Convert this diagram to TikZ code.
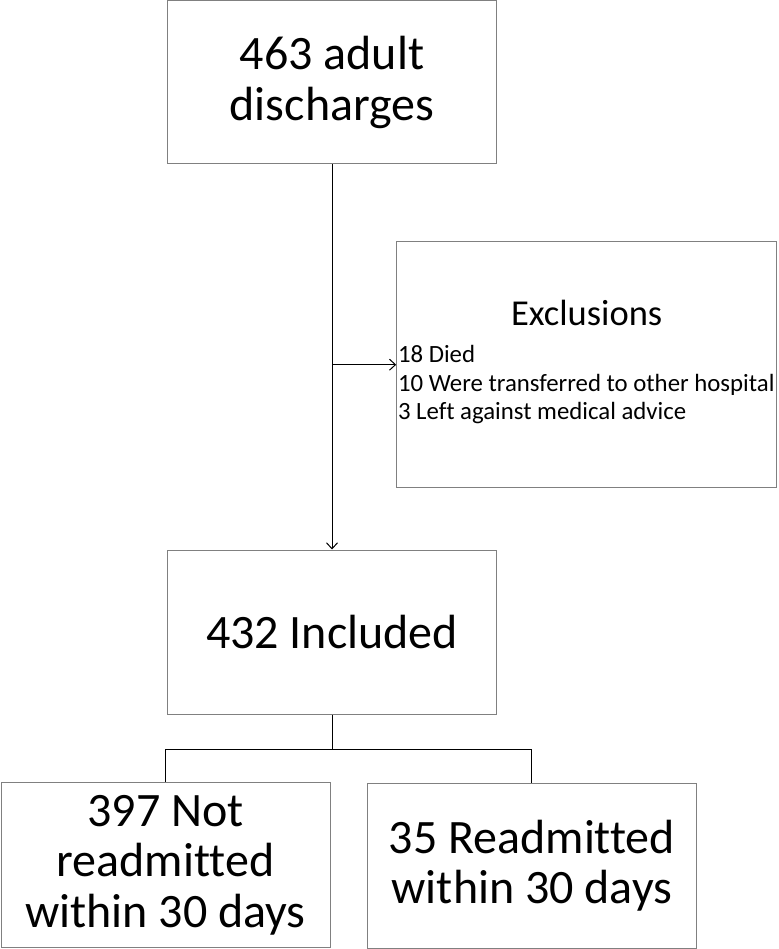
\documentclass[tikz,border=0pt]{standalone}
\usepackage{fontspec}
\setmainfont[Ligatures=NoCommon]{Carlito}
\usetikzlibrary{arrows.meta,positioning}

\begin{document}
\begin{tikzpicture}[x=1pt,y=-1pt,>={Straight Barb[length=6pt,width=11pt]},line width=1pt,
            main node/.style={rectangle,draw=black!50,minimum width=329pt,minimum height=164pt,
              inner sep=0pt,align=center,font=\fontsize{48}{50.5}\selectfont},
            exitem/.style={inner sep=0pt,anchor=base west,font=\fontsize{24.8}{28}\selectfont}]
            \useasboundingbox (0,0) rectangle (778,949);
            \node[main node, minimum height=163pt] (1) at (332,82.5) {463 adult\\discharges};
            \node[main node] (2) [below=385pt of 1] {432 Included};
            \node[main node, minimum width=380pt, minimum height=246pt] (3) at (586.7,364.7) {};
            \node[main node, minimum height=165pt] (4) at (165.5,865.2) {397 Not\\readmitted\\within 30 days};
            \node[main node, minimum height=165pt] (5) at (531.9,865.5) {35 Readmitted\\within 30 days};
            \node[inner sep=0pt, anchor=base, font=\fontsize{36.5}{40}\selectfont] (extitle) at (586.7,325) {Exclusions};
            \foreach \txt [count=\i] in {18 Died, 10 Were transferred to other hospital, 3 Left against medical advice}
              \node[exitem] (ex\i) at (397.5,334.4+28.3*\i) {\txt};
            \draw[->] (1.south) -- (2.north);
            \draw[->] (1.south |- 3.west) -- (3.west);
            \draw (2.south) -- ++(0,35) coordinate (split);
            \draw (split) -| (4.north);
            \draw (split) -| (5.north);
        \end{tikzpicture}
\end{document}
